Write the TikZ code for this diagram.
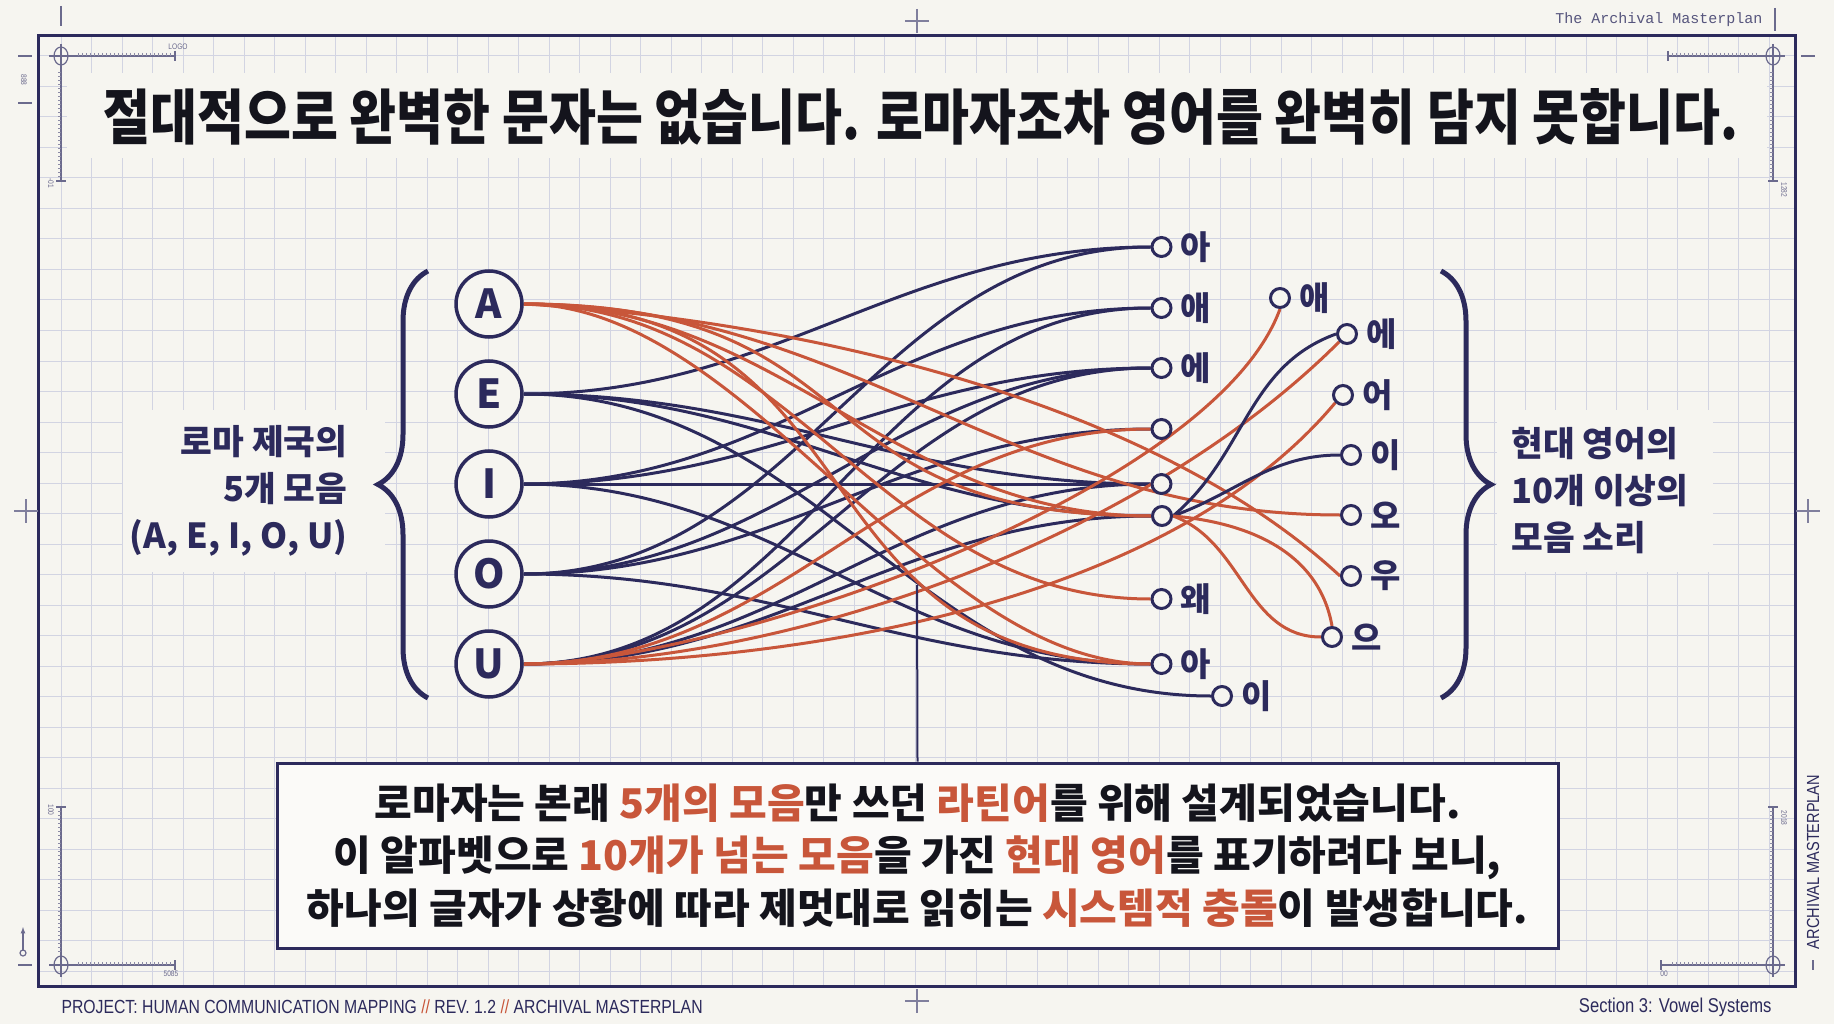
\documentclass[tikz,border=0pt]{standalone}
\usepackage{fontspec}
\setmainfont{Noto Sans CJK KR}
\newfontfamily\headfont{Noto Sans CJK KR}[FakeStretch=0.85]
\newfontfamily\narrowfont{Liberation Sans}[FakeStretch=0.83]
\newfontfamily\typefont{Liberation Mono}
\usetikzlibrary{positioning,decorations.pathreplacing}
\definecolor{navy}{RGB}{44,42,92}
\definecolor{rust}{RGB}{200,86,58}
\definecolor{paper}{RGB}{246,245,240}
\definecolor{gridc}{RGB}{210,212,226}
\definecolor{ink}{RGB}{20,20,28}
\pgfdeclarelayer{back}
\pgfdeclarelayer{lines}
\pgfsetlayers{back,lines,main}

\begin{document}
\begin{tikzpicture}
      [%%%%%%%%%%%%%%%%%%%%%%%%%%%%%%
          x=1pt, y=-1pt,
          gridline/.style={draw=gridc, line width=1pt},
          frameline/.style={draw=navy, line width=3pt},
          markline/.style={draw=navy!70, line width=1.2pt},
          tickline/.style={draw=navy!55, line width=0.7pt},
          crossline/.style={draw=navy!60, line width=1.4pt},
          tiny/.style={text=navy!70, font=\narrowfont\fontsize{8}{8}\selectfont, inner sep=1pt},
          vowel/.style={circle, draw=navy, line width=3.5pt, minimum size=66pt, inner sep=0pt,
                        fill=paper, text=navy, font=\bfseries\fontsize{40}{40}\selectfont},
          dot/.style={circle, draw=navy, line width=3pt, minimum size=19pt, inner sep=0pt, fill=paper},
          sound/.style={text=navy, inner sep=1pt, font=\bfseries\fontsize{33}{33}\selectfont},
          side/.style={text=navy, font=\bfseries\fontsize{34.5}{47}\selectfont},
          navyline/.style={draw=navy, line width=3pt},
          rustline/.style={draw=rust, line width=3pt},
          bracestyle/.style={draw=navy, line width=5pt, decorate, decoration={brace, amplitude=50pt}},
          notebox/.style={draw=navy, line width=3pt, fill=white!55!paper, minimum width=1281pt,
                          minimum height=185pt, align=center, text=ink,
                          font=\bfseries\fontsize{41}{52.5}\selectfont},
          scale=1
      ]%%%%%%%%%%%%%%%%%%%%%%%%%%%%%%

  \useasboundingbox (0,0) rectangle (1834,1024);

  \begin{pgfonlayer}{back}
  \fill[paper] (0,0) rectangle (1834,1024);
  \begin{scope}
    \clip (38.5,36) rectangle (1795.5,986);
    \foreach \i in {0,...,57}
        \draw[gridline] (61+30.5*\i,36) -- ++(0,950);
    \foreach \j in {-1,...,30}
        \draw[gridline] (38.5,56+30.5*\j) -- ++(1757,0);
  \end{scope}
  \fill[paper] (67,73) rectangle (1767,158);
  \fill[paper] (123,410) rectangle (385,572);
  \fill[paper] (1497,410) rectangle (1713,572);
  \end{pgfonlayer}

  \draw[frameline] (38.5,36) rectangle (1795.5,986);

  % crosses and corner marks
  \foreach \px/\py in {917/21,26/511,1808/511,917/1001}
      \draw[crossline] (\px-12,\py) -- (\px+12,\py) (\px,\py-12) -- (\px,\py+12);

  \foreach \cx/\cy in {61/56,1773/56,61/965,1773/965}{
      \draw[markline] (\cx,\cy) ellipse (7 and 9);
      \draw[markline] (\cx-12,\cy) -- (\cx+12,\cy) (\cx,\cy-12) -- (\cx,\cy+12);
  }

  \draw[markline] (72,56) -- (175,56) (175,51) -- (175,61);
  \draw[markline] (61,68) -- (61,181) (56,181) -- (66,181);
  \draw[markline] (1668,56) -- (1762,56) (1668,51) -- (1668,61);
  \draw[markline] (1773,68) -- (1773,181) (1768,181) -- (1778,181);
  \draw[markline] (72,965) -- (175,965) (175,960) -- (175,970);
  \draw[markline] (61,807) -- (61,953) (56,807) -- (66,807);
  \draw[markline] (1661,965) -- (1762,965) (1661,960) -- (1661,970);
  \draw[markline] (1773,807) -- (1773,953) (1768,807) -- (1778,807);
  \foreach \tk in {78,82,...,170}{
      \draw[tickline] (\tk,53) -- (\tk,56);
      \draw[tickline] (\tk,962) -- (\tk,965);
  }
  \foreach \tk in {1672,1676,...,1758}{
      \draw[tickline] (\tk,53) -- (\tk,56);
      \draw[tickline] (\tk,962) -- (\tk,965);
  }
  \foreach \tk in {72,76,...,178}{
      \draw[tickline] (58,\tk) -- (61,\tk);
      \draw[tickline] (1770,\tk) -- (1773,\tk);
  }
  \foreach \tk in {811,815,...,951}{
      \draw[tickline] (58,\tk) -- (61,\tk);
      \draw[tickline] (1770,\tk) -- (1773,\tk);
  }

  \node[tiny, anchor=south] (logo) at (178,51) {LOGO};
  \node[tiny, rotate=-90] (eights) at (24,80) {888};
  \node[tiny, rotate=-90] (tlnum) at (51,183) {-01};
  \node[tiny, rotate=-90] (blnum) at (51,810) {100};
  \node[tiny, anchor=north] (bhnum) at (171,970) {5085};
  \node[tiny, anchor=north] (brnum) at (1664,970) {00};
  \node[tiny, rotate=-90] (trnum) at (1784,190) {1282};
  \node[tiny, rotate=-90] (brvnum) at (1784,818) {2018};

  \draw[markline] (61,6) -- (61,26);
  \draw[markline] (18,56) -- (32,56) (18,103) -- (32,103);
  \draw[markline] (1801,56) -- (1815,56);
  \draw[markline] (18,965) -- (32,965);
  \draw[markline, -latex] (23,950) -- (23,927);
  \draw[markline] (23,953) circle (3);
  \draw[markline] (1813,960) -- (1813,970);

  \node[anchor=east, text=navy!80, font=\typefont\fontsize{15}{15}\selectfont] (corner) at (1766,20) {The Archival Masterplan};
  \draw[markline] (1775,8) -- (1775,31);
  \node[rotate=90, text=navy, font=\narrowfont\fontsize{17.5}{17.5}\selectfont] (spine) at (1813,862) {ARCHIVAL MASTERPLAN};

  % title
  \node[text=ink, font=\headfont\bfseries\fontsize{60}{62}\selectfont] (title) at (921,117)
      {절대적으로 완벽한 문자는 없습니다. 로마자조차 영어를 완벽히 담지 못합니다.};

  % five roman vowels
  \node[vowel] (A) at (489,304) {A};
  \node[vowel] (E) at (489,394) {E};
  \node[vowel] (I) at (489,484) {I};
  \node[vowel] (O) at (489,574) {O};
  \node[vowel] (U) at (489,664) {U};

  % english vowel sounds
  \node[dot] (mA) at (1161.5,247) {};
  \node[dot] (mAe) at (1161.5,308) {};
  \node[dot] (mE) at (1161.5,368) {};
  \node[dot] (m4) at (1161.5,429) {};
  \node[dot] (m5) at (1161.5,484) {};
  \node[dot] (hub) at (1162,516) {};
  \node[dot] (mWae) at (1161.5,599) {};
  \node[dot] (mA2) at (1161.5,664) {};
  \node[dot] (mI) at (1222,696) {};
  \node[dot] (rAe) at (1280,298) {};
  \node[dot] (rE) at (1347,334) {};
  \node[dot] (rEo) at (1343,395) {};
  \node[dot] (rI) at (1351,455) {};
  \node[dot] (rO) at (1351,515) {};
  \node[dot] (rU) at (1351,576) {};
  \node[dot] (rEu) at (1332,637) {};

  \node[sound, right=7pt of mA] (tA) {아};
  \node[sound, right=7pt of mAe] (tAe) {애};
  \node[sound, right=7pt of mE] (tE) {에};
  \node[sound, right=7pt of mWae] (tWae) {왜};
  \node[sound, right=7pt of mA2] (tA2) {아};
  \node[sound, right=7pt of mI] (tI) {이};
  \node[sound, right=7pt of rAe] (sAe) {애};
  \node[sound, right=7pt of rE] (sE) {에};
  \node[sound, right=7pt of rEo] (sEo) {어};
  \node[sound, right=7pt of rI] (sI) {이};
  \node[sound, right=7pt of rO] (sO) {오};
  \node[sound, right=7pt of rU] (sU) {우};
  \node[sound, right=7pt of rEu] (sEu) {으};

  \begin{pgfonlayer}{lines}
  \foreach \src/\dst in {E/mA,O/mA,I/mAe,U/mAe,I/mE,O/mE,U/mE,O/m4,E/m5,I/m5,U/m5,E/hub,U/hub,O/mA2,I/mA2,E/mI}
      \draw[navyline] (\src.east) to[out=0,in=180] (\dst.west);
  \foreach \dst/\lo in {hub/1,hub/1.4,rO/1,mWae/1,mA2/0.8,mA2/1.3}
      \draw[rustline] (A.east) to[out=0,in=180,looseness=\lo] (\dst.west);
  \draw[rustline] (A.east) .. controls (800,320) and (1150,400) .. (rU.west);
  \draw[rustline] (U.east) to[out=0,in=180] (m4.west);
  \draw[rustline] (U.east) to[out=0,in=-110,looseness=0.6] (rAe.south);
  \draw[rustline] (U.east) to[out=0,in=-135,looseness=0.8] (rE.south west);
  \draw[rustline] (U.east) to[out=0,in=-130,looseness=0.8] (rEo.south west);
  \draw[navyline] (hub.east) to[out=40,in=200] (rE.west);
  \draw[navyline] (hub.east) to[out=20,in=180] (rI.west);
  \draw[rustline] (hub.east) to[out=-20,in=180] (rEu.west);
  \draw[rustline] (hub.east) to[out=-5,in=100] (rEu.north);
  \end{pgfonlayer}

  % braces and side labels
  \draw[bracestyle] (428,698) -- (428,271);
  \draw[bracestyle] (1441,271) -- (1441,698);
  \node[side, anchor=east, align=right] (roman) at (351,491) {로마 제국의\\5개 모음\\(A, E, I, O, U)};
  \node[side, anchor=west, align=left] (modern) at (1508,491) {현대 영어의\\10개 이상의\\모음 소리};

  % note
  \node[notebox] (box) at (917.5,855.5)
      {로마자는 본래 {\color{rust}5개의 모음}만 쓰던 {\color{rust}라틴어}를 위해 설계되었습니다.\\
       이 알파벳으로 {\color{rust}10개가 넘는 모음}을 가진 {\color{rust}현대 영어}를 표기하려다 보니,\\
       하나의 글자가 상황에 따라 제멋대로 읽히는 {\color{rust}시스템적 충돌}이 발생합니다.};
  \coordinate (tap) at (917,585);
  \draw[navy, line width=2pt] (tap) -- (box.north);

  % footer
  \node[anchor=west, text=navy, font=\narrowfont\fontsize{19}{19}\selectfont] (project) at (58,1007)
      {PROJECT: HUMAN COMMUNICATION MAPPING {\color{rust}//} REV. 1.2 {\color{rust}//} ARCHIVAL MASTERPLAN};
  \node[anchor=east, text=navy, font=\narrowfont\fontsize{20}{20}\selectfont] (section) at (1775,1007)
      {Section 3: Vowel Systems};

  \end{tikzpicture}
\end{document}
